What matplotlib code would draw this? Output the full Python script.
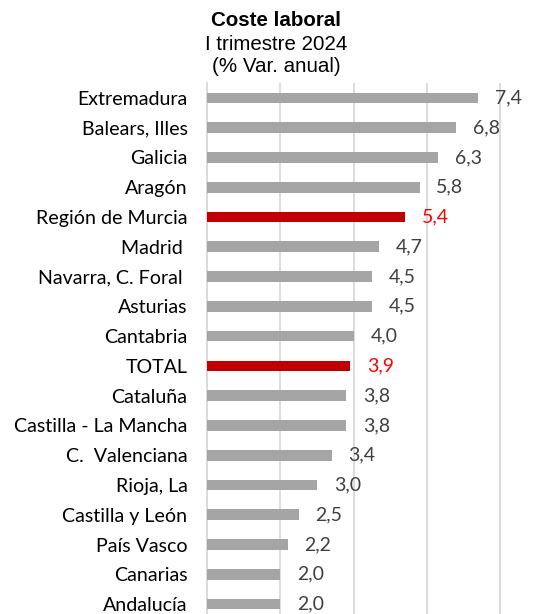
import matplotlib
matplotlib.use("Agg")
import matplotlib.pyplot as plt

categories = ["Extremadura", "Balears, Illes", "Galicia", "Aragón", "Región de Murcia",
              "Madrid ", "Navarra, C. Foral ", "Asturias", "Cantabria", "TOTAL",
              "Cataluña", "Castilla - La Mancha", "C.  Valenciana", "Rioja, La",
              "Castilla y León", "País Vasco", "Canarias", "Andalucía"]
values = [7.4, 6.8, 6.3, 5.8, 5.4, 4.7, 4.5, 4.5, 4.0, 3.9, 3.8, 3.8, 3.4, 3.0, 2.5, 2.2, 2.0, 2.0]
highlight = ["Región de Murcia", "TOTAL"]

W, H = 536, 614
fig = plt.figure(figsize=(W/100, H/100), dpi=100)
x0, x1 = 207, 537
ytop, ybot = 83, 619
ax = fig.add_axes([x0/W, (H-ybot)/H, (x1-x0)/W, (ybot-ytop)/H])

n = len(categories)
ypos = list(range(n))
colors = ["#C00000" if c in highlight else "#A5A5A5" for c in categories]
ax.barh(ypos, values, height=0.36, color=colors, zorder=3)
ax.set_ylim(n-0.5, -0.5)
ax.set_xlim(0, 9)
ax.set_xticks([0, 2, 4, 6, 8])
ax.xaxis.grid(True, color="#D9D9D9", linewidth=1.3, zorder=0)
ax.set_xticklabels([])
ax.tick_params(axis="x", length=0)
ax.set_yticks(ypos)
ax.set_yticklabels(categories, fontsize=14.1, family="Lato", color="#000000")
ax.tick_params(axis="y", length=0, pad=14)
for s in ["top", "right", "bottom"]:
    ax.spines[s].set_visible(False)
ax.spines["left"].set_color("#D9D9D9")
ax.spines["left"].set_linewidth(1.3)

for y, v, c in zip(ypos, values, categories):
    col = "#FF0000" if c in highlight else "#404040"
    ax.annotate(f"{v:.1f}".replace(".", ","), xy=(v, y), xytext=(12, 0),
                textcoords="offset points", va="center", ha="left",
                fontsize=14, family="Lato", color=col)

fig.text(276/W, 1-20/H, "Coste laboral", ha="center", va="center", fontsize=14.8,
         fontweight="bold", family="Liberation Sans")
fig.text(276/W, 1-44/H, "I trimestre 2024", ha="center", va="center", fontsize=14.8,
         family="Liberation Sans")
fig.text(276/W, 1-66/H, "(% Var. anual)", ha="center", va="center", fontsize=14.8,
         family="Liberation Sans")

fig.savefig("out.png", dpi=100)
